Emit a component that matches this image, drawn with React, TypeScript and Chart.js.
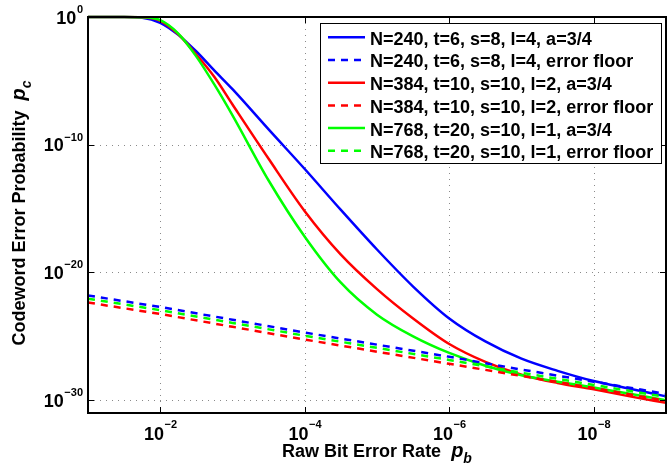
import React, { useEffect, useRef } from "react";
import { Chart, registerables } from "chart.js";

Chart.register(...registerables);

const FONT = '"Liberation Sans", Arial, Helvetica, sans-serif';

// Raw bit error rate p_b of each sample, written as powers of ten
const pbExpCurve = [-1, -1.5, -1.75, -2, -2.25, -2.5, -2.75, -3, -3.5, -4, -4.5, -5, -5.5, -6, -6.5, -7, -7.5, -8, -8.5, -9];
const pbExpFloor = [-1, -2, -3, -4, -5, -6, -7, -8, -9];

// Codeword error probability p_c, written as powers of ten
const pcExpN240 = [0, 0, -0.05, -0.45, -1.4, -2.7, -4.2, -5.65, -8.8, -11.9, -15.1, -18.2, -21.1, -23.6, -25.4, -26.75, -27.7, -28.5, -29.1, -29.7];
const pcExpN240Floor = [-21.8, -22.7, -23.7, -24.7, -25.65, -26.6, -27.6, -28.55, -29.5];
const pcExpN384 = [0, 0, -0.02, -0.3, -1.35, -2.95, -4.7, -6.85, -11.1, -15.2, -18.6, -21.3, -23.6, -25.6, -27.0, -28.0, -28.65, -29.15, -29.7, -30.2];
const pcExpN384Floor = [-22.35, -23.25, -24.25, -25.25, -26.2, -27.15, -28.1, -29.05, -30.05];
const pcExpN768 = [0, 0, -0.02, -0.25, -1.3, -3.1, -5.3, -7.7, -12.8, -17.2, -20.8, -23.3, -25.0, -26.3, -27.3, -28.05, -28.55, -29.0, -29.5, -30.0];
const pcExpN768Floor = [-22.05, -22.95, -23.95, -24.95, -25.9, -26.85, -27.85, -28.8, -29.75];

const seriesLabels = [
  "N=240, t=6, s=8, l=4, a=3/4",
  "N=240, t=6, s=8, l=4, error floor",
  "N=384, t=10, s=10, l=2, a=3/4",
  "N=384, t=10, s=10, l=2, error floor",
  "N=768, t=20, s=10, l=1, a=3/4",
  "N=768, t=20, s=10, l=1, error floor",
];
const seriesColors = ["#0000ff", "#0000ff", "#ff0000", "#ff0000", "#00ff00", "#00ff00"];
const seriesDashed = [false, true, false, true, false, true];
const seriesOrder = [6, 3, 5, 2, 4, 1];

const xTickExponents = [-2, -4, -6, -8];
const yTickExponents = [0, -10, -20, -30];
const xAxisTitle = "Raw Bit Error Rate";
const xAxisSymbol = "p";
const xAxisSub = "b";
const yAxisTitle = "Codeword Error Probability";
const yAxisSymbol = "p";
const yAxisSub = "c";

const DASH = [7, 6];
const LINE_W = 2.5;

function toPoints(xs: number[], ys: number[]) {
  return xs.map((x, i) => ({ x: Math.pow(10, x), y: Math.pow(10, ys[i]) }));
}

const seriesPoints = [
  toPoints(pbExpCurve, pcExpN240),
  toPoints(pbExpFloor, pcExpN240Floor),
  toPoints(pbExpCurve, pcExpN384),
  toPoints(pbExpFloor, pcExpN384Floor),
  toPoints(pbExpCurve, pcExpN768),
  toPoints(pbExpFloor, pcExpN768Floor),
];

function sup(e: number) {
  return e < 0 ? "\u2212" + String(-e) : String(e);
}

const decorPlugin = {
  id: "decor",
  beforeDatasetsDraw(chart: any) {
    const { ctx, chartArea: a, scales } = chart;
    const xs = scales.x;
    const ys = scales.y;
    ctx.save();
    ctx.strokeStyle = "#8a8a8a";
    ctx.lineWidth = 1;
    ctx.setLineDash([1, 5]);
    for (const e of xTickExponents) {
      const px = Math.round(xs.getPixelForValue(Math.pow(10, e))) + 0.5;
      ctx.beginPath();
      ctx.moveTo(px, a.top);
      ctx.lineTo(px, a.bottom);
      ctx.stroke();
    }
    for (const e of yTickExponents) {
      const py = Math.round(ys.getPixelForValue(Math.pow(10, e))) + 0.5;
      ctx.beginPath();
      ctx.moveTo(a.left, py);
      ctx.lineTo(a.right, py);
      ctx.stroke();
    }
    ctx.restore();
  },
  afterDatasetsDraw(chart: any) {
    const { ctx, chartArea: a, scales } = chart;
    const xs = scales.x;
    const ys = scales.y;
    ctx.save();
    ctx.setLineDash([]);
    // box
    ctx.strokeStyle = "#000";
    ctx.lineWidth = 2;
    ctx.strokeRect(a.left, a.top, a.right - a.left, a.bottom - a.top);
    // tick marks
    ctx.lineWidth = 1;
    for (const e of xTickExponents) {
      const px = Math.round(xs.getPixelForValue(Math.pow(10, e))) + 0.5;
      ctx.beginPath();
      ctx.moveTo(px, a.bottom);
      ctx.lineTo(px, a.bottom - 6);
      ctx.moveTo(px, a.top);
      ctx.lineTo(px, a.top + 6);
      ctx.stroke();
    }
    for (const e of yTickExponents) {
      const py = Math.round(ys.getPixelForValue(Math.pow(10, e))) + 0.5;
      ctx.beginPath();
      ctx.moveTo(a.left, py);
      ctx.lineTo(a.left + 6, py);
      ctx.moveTo(a.right, py);
      ctx.lineTo(a.right - 6, py);
      ctx.stroke();
    }
    // tick labels
    ctx.fillStyle = "#000";
    ctx.textBaseline = "alphabetic";
    ctx.textAlign = "left";
    const bigFont = "bold 18px " + FONT;
    const smallFont = "bold 11px " + FONT;
    for (const e of yTickExponents) {
      const py = ys.getPixelForValue(Math.pow(10, e));
      ctx.font = smallFont;
      const s = sup(e);
      const w2 = ctx.measureText(s).width;
      ctx.font = bigFont;
      const w1 = ctx.measureText("10").width;
      const sx = a.left - 5 - w2;
      ctx.fillText("10", sx - w1 - 0.5, py + 6.5);
      ctx.font = smallFont;
      ctx.fillText(s, sx, py - 4);
    }
    for (const e of xTickExponents) {
      const px = xs.getPixelForValue(Math.pow(10, e));
      ctx.font = smallFont;
      const s = sup(e);
      const w2 = ctx.measureText(s).width;
      ctx.font = bigFont;
      const w1 = ctx.measureText("10").width;
      const x0 = px - (w1 + w2) / 2;
      ctx.fillText("10", x0, a.bottom + 27);
      ctx.font = smallFont;
      ctx.fillText(s, x0 + w1 + 0.5, a.bottom + 15);
    }
    // axis titles
    const titleFont = "bold 18px " + FONT;
    const symFont = "italic bold 20px " + FONT;
    const subFont = "italic bold 14px " + FONT;
    const drawTitle = (title: string, symb: string, sub: string) => {
      ctx.font = titleFont;
      const wt = ctx.measureText(title).width;
      ctx.font = symFont;
      const wp = ctx.measureText(symb).width;
      ctx.font = subFont;
      const ws = ctx.measureText(sub).width;
      const gap = 10;
      const total = wt + gap + wp + ws;
      let x = -total / 2;
      ctx.font = titleFont;
      ctx.fillText(title, x, 0);
      x += wt + gap;
      ctx.font = symFont;
      ctx.fillText(symb, x, 0);
      x += wp;
      ctx.font = subFont;
      ctx.fillText(sub, x, 6);
    };
    ctx.save();
    ctx.translate((a.left + a.right) / 2, a.bottom + 44);
    drawTitle(xAxisTitle, xAxisSymbol, xAxisSub);
    ctx.restore();
    ctx.save();
    ctx.translate(25, (a.top + a.bottom) / 2 - 2);
    ctx.rotate(-Math.PI / 2);
    drawTitle(yAxisTitle, yAxisSymbol, yAxisSub);
    ctx.restore();
    // legend
    const lx = 320, ly = 23, lw = 341, lh = 140;
    ctx.fillStyle = "#fff";
    ctx.fillRect(lx, ly, lw, lh);
    ctx.strokeStyle = "#000";
    ctx.lineWidth = 1;
    ctx.strokeRect(lx + 0.5, ly + 0.5, lw, lh);
    for (let i = 0; i < seriesLabels.length; i++) {
      const ry = 37.3 + i * 22.7;
      ctx.strokeStyle = seriesColors[i];
      ctx.lineWidth = LINE_W;
      ctx.setLineDash(seriesDashed[i] ? DASH : []);
      ctx.beginPath();
      ctx.moveTo(328, ry);
      ctx.lineTo(365, ry);
      ctx.stroke();
      ctx.setLineDash([]);
      ctx.fillStyle = "#000";
      ctx.font = "bold 18px " + FONT;
      ctx.fillText(seriesLabels[i], 370, ry + 7.4);
    }
    ctx.restore();
  },
};

export default function App() {
  const ref = useRef<HTMLCanvasElement | null>(null);
  useEffect(() => {
    if (!ref.current) return;
    const chart = new Chart(ref.current, {
      type: "line",
      data: {
        datasets: seriesLabels.map((label, i) => ({
          label,
          data: seriesPoints[i],
          borderColor: seriesColors[i],
          backgroundColor: seriesColors[i],
          borderWidth: LINE_W,
          borderDash: seriesDashed[i] ? DASH : [],
          pointRadius: 0,
          fill: false,
          clip: false as any,
          order: seriesOrder[i],
          cubicInterpolationMode: seriesDashed[i] ? "default" : "monotone",
          tension: 0,
        })),
      },
      options: {
        responsive: false,
        animation: false,
        events: [],
        layout: { padding: { left: 88, top: 17, right: 2, bottom: 53 } },
        scales: {
          x: { type: "logarithmic", min: 1e-9, max: 1e-1, reverse: true, display: false },
          y: { type: "logarithmic", min: 1e-31, max: 1, display: false },
        },
        plugins: { legend: { display: false }, tooltip: { enabled: false } },
      },
      plugins: [decorPlugin],
    } as any);
    return () => chart.destroy();
  }, []);
  return (
    <div style={{ position: "fixed", left: 0, top: 0, width: 668, height: 466, background: "#fff" }}>
      <canvas ref={ref} width={668} height={466} style={{ display: "block" }} />
    </div>
  );
}
